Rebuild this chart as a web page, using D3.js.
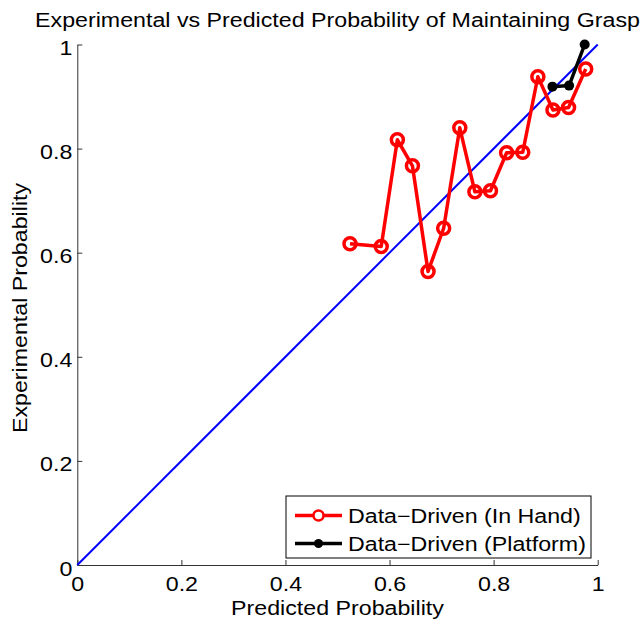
<!DOCTYPE html>
<html>
<head>
<meta charset="utf-8">
<script src="https://cdn.jsdelivr.net/npm/d3@7"></script>
<style>
  body { margin: 0; background: #fff; }
  text { font-family: "Liberation Sans", Arial, sans-serif; fill: #000; }
</style>
</head>
<body>
<div id="chart"></div>
<script>
// predicted vs experimental probability
const handPredicted = [0.524, 0.584, 0.615, 0.644, 0.674, 0.704, 0.735, 0.764, 0.794, 0.825, 0.856, 0.885, 0.914, 0.944, 0.977];
const handExperimental = [0.617, 0.612, 0.817, 0.767, 0.564, 0.647, 0.840, 0.717, 0.719, 0.792, 0.793, 0.938, 0.874, 0.879, 0.953];
const platformPredicted = [0.913, 0.945, 0.975];
const platformExperimental = [0.919, 0.921, 1.0];
const tickValues = [0, 0.2, 0.4, 0.6, 0.8, 1];
const legendLabels = ["Data\u2212Driven (In Hand)", "Data\u2212Driven (Platform)"];

const width = 642;
const height = 623;
const margin = {left: 77.3, right: 44.3, top: 44.5, bottom: 58};
const fontSize = '20px';
// the original font is wider than Liberation Sans, so stretch glyphs along the text
const stretch = 1.16;

function widen(sel) {
    sel.each(function() {
        const len = this.getComputedTextLength();
        d3.select(this)
            .attr('textLength', len * stretch)
            .attr('lengthAdjust', 'spacingAndGlyphs');
    });
}

const svg = d3.select('#chart')
    .append('svg')
    .attr('width', width)
    .attr('height', height);

const x = d3.scaleLinear().domain([0, 1]).range([margin.left, width - margin.right]);
const y = d3.scaleLinear().domain([0, 1]).range([height - margin.bottom, margin.top]);

const fmt = d => d === 0 || d === 1 ? String(d) : d3.format('.1f')(d);

// axes, ticks pointing inward like matlab
const xAxis = svg.append('g')
    .attr('transform', `translate(0,${y(0)})`)
    .call(d3.axisBottom(x).tickValues(tickValues).tickFormat(fmt).tickSizeInner(-5).tickSizeOuter(0).tickPadding(12));
const yAxis = svg.append('g')
    .attr('transform', `translate(${x(0)},0)`)
    .call(d3.axisLeft(y).tickValues(tickValues).tickFormat(fmt).tickSizeInner(-5).tickSizeOuter(0).tickPadding(5));

[xAxis, yAxis].forEach(a => {
    a.select('.domain').attr('stroke', '#333').attr('stroke-width', 1);
    a.selectAll('.tick line').attr('stroke', '#333');
    a.selectAll('text').style('font-size', fontSize).attr('fill', '#000').call(widen);
});
yAxis.selectAll('text').attr('dy', '0.5em');

// identity line
svg.append('line')
    .attr('x1', x(0)).attr('y1', y(0))
    .attr('x2', x(1)).attr('y2', y(1))
    .attr('stroke', '#0000ff')
    .attr('stroke-width', 2);

const line = d3.line().x(d => x(d[0])).y(d => y(d[1]));

const handData = d3.zip(handPredicted, handExperimental);
const platformData = d3.zip(platformPredicted, platformExperimental);

svg.append('path')
    .datum(handData)
    .attr('d', line)
    .attr('fill', 'none')
    .attr('stroke', '#ff0000')
    .attr('stroke-width', 3.5)
    .attr('stroke-linejoin', 'round');

svg.selectAll('.hand')
    .data(handData)
    .enter()
    .append('circle')
    .attr('class', 'hand')
    .attr('cx', d => x(d[0]))
    .attr('cy', d => y(d[1]))
    .attr('r', 6)
    .attr('fill', 'none')
    .attr('stroke', '#ff0000')
    .attr('stroke-width', 3.5);

svg.append('path')
    .datum(platformData)
    .attr('d', line)
    .attr('fill', 'none')
    .attr('stroke', '#000')
    .attr('stroke-width', 3.5)
    .attr('stroke-linejoin', 'round');

svg.selectAll('.platform')
    .data(platformData)
    .enter()
    .append('circle')
    .attr('class', 'platform')
    .attr('cx', d => x(d[0]))
    .attr('cy', d => y(d[1]))
    .attr('r', 5)
    .attr('fill', '#000');

// title and axis labels
svg.append('text')
    .attr('x', (x(0) + x(1)) / 2)
    .attr('y', 27)
    .attr('text-anchor', 'middle')
    .style('font-size', fontSize)
    .text('Experimental vs Predicted Probability of Maintaining Grasp')
    .call(widen);

svg.append('text')
    .attr('x', (x(0) + x(1)) / 2)
    .attr('y', 615)
    .attr('text-anchor', 'middle')
    .style('font-size', fontSize)
    .text('Predicted Probability')
    .call(widen);

svg.append('text')
    .attr('transform', `translate(27,308) rotate(-90)`)
    .attr('text-anchor', 'middle')
    .style('font-size', fontSize)
    .text('Experimental Probability')
    .call(widen);

// legend
const legend = svg.append('g').attr('transform', 'translate(286,496)');
legend.append('rect')
    .attr('width', 305)
    .attr('height', 62)
    .attr('fill', '#fff')
    .attr('stroke', '#000')
    .attr('stroke-width', 1);

const items = legend.selectAll('.item')
    .data(legendLabels)
    .enter()
    .append('g')
    .attr('transform', (d, i) => `translate(0,${19.5 + i * 28})`);

items.append('line')
    .attr('x1', 9).attr('x2', 56)
    .attr('stroke', (d, i) => i === 0 ? '#ff0000' : '#000')
    .attr('stroke-width', 3.5);

items.append('circle')
    .attr('cx', 32.5)
    .attr('r', (d, i) => i === 0 ? 5 : 4.5)
    .attr('fill', (d, i) => i === 0 ? '#fff' : '#000')
    .attr('stroke', (d, i) => i === 0 ? '#ff0000' : 'none')
    .attr('stroke-width', 2.5);

items.append('text')
    .attr('x', 62)
    .attr('dy', '0.36em')
    .style('font-size', fontSize)
    .text(d => d)
    .call(widen);
</script>
</body>
</html>
